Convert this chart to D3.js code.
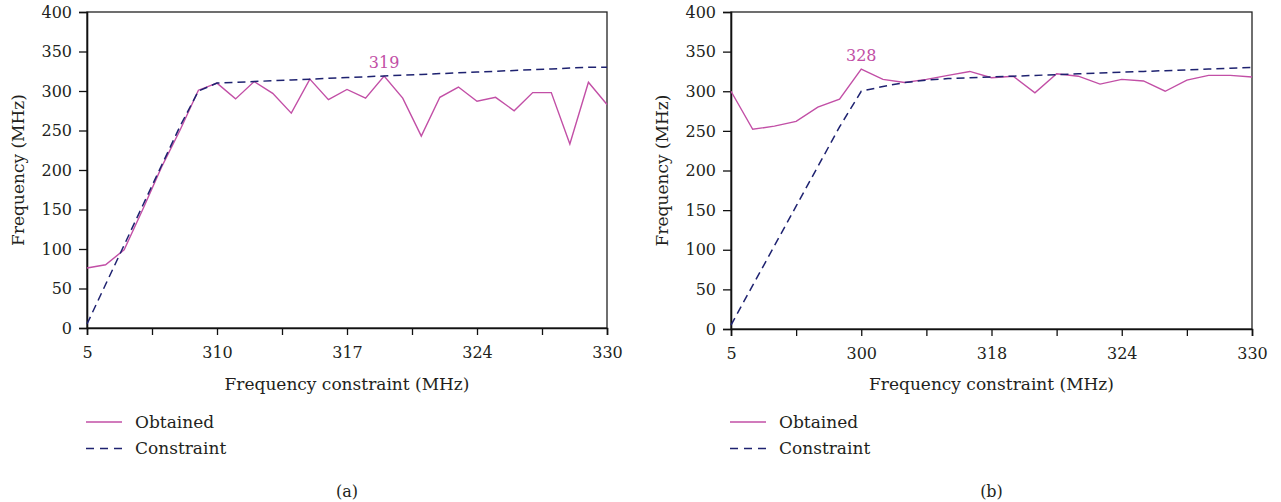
<!DOCTYPE html>
<html>
<head>
<meta charset="utf-8">
<script src="https://cdn.jsdelivr.net/npm/d3@7"></script>
<style>
  body { margin: 0; background: #fff; }
  text { font-family: "DejaVu Serif", serif; fill: #231f20; }
</style>
</head>
<body>
<script>
// panel (a)
var obtainedA = [76, 80, 99, 150, 203, 250, 301, 310, 290, 312, 297, 272, 315, 289, 302, 291,
  319, 291, 243, 292, 305, 287, 292, 275, 298, 298, 233, 311, 283];
var constraintA = [5, 55, 105, 155, 205, 255, 300, 310, 311, 312, 313, 314, 315, 316, 317, 318,
  319, 320, 321, 322, 323, 324, 325, 326, 327, 328, 329, 330, 330];
var tickLabelsA = ["5", "310", "317", "324", "330"];

// panel (b)
var obtainedB = [300, 252, 256, 262, 280, 290, 328, 315, 311, 315, 320, 325, 317, 319, 298, 322,
  319, 309, 315, 313, 300, 314, 320, 320, 318];
var constraintB = [5, 55, 105, 155, 205, 255, 300, 306, 311, 314, 316, 317, 318, 319, 320, 321,
  322, 323, 324, 325, 326, 327, 328, 329, 330];
var tickLabelsB = ["5", "300", "318", "324", "330"];

var yTicks = [0, 50, 100, 150, 200, 250, 300, 350, 400];
var seriesNames = ["Obtained", "Constraint"];

var pink = "#c24fa6", navy = "#1e2270";

var svg = d3.select("body").append("svg")
  .attr("width", 1281)
  .attr("height", 502);

function drawPanel(left, right, bottom, obtained, constraint, tickLabels, peakIdx, caption) {
  var top = 12;
  var n = obtained.length - 1;
  var x = d3.scaleLinear().domain([0, n]).range([left, right]);
  var y = d3.scaleLinear().domain([0, 400]).range([bottom, top]);

  var g = svg.append("g");

  // frame
  g.append("rect")
    .attr("x", left).attr("y", top)
    .attr("width", right - left).attr("height", bottom - top)
    .attr("fill", "none").attr("stroke", "#222").attr("stroke-width", 1.3);

  // tick positions: every other one carries a label
  var step = n / 8;
  var xTickVals = d3.range(9).map(function(i) { return i * step; });

  var xAxis = d3.axisBottom(x)
    .tickValues(xTickVals)
    .tickSize(7)
    .tickPadding(12)
    .tickFormat(function(d, i) { return i % 2 === 0 ? tickLabels[i / 2] : ""; });

  g.append("g")
    .attr("transform", "translate(0," + bottom + ")")
    .call(xAxis)
    .call(function(s) {
      s.select(".domain").attr("stroke", "#111").attr("stroke-width", 1.6);
      s.selectAll(".tick line").attr("stroke", "#111").attr("stroke-width", 1.3);
      s.selectAll(".tick text").attr("font-size", 16).attr("font-family", "DejaVu Serif").attr("fill", "#231f20");
    });

  var yAxis = d3.axisLeft(y).tickValues(yTicks).tickSize(8).tickPadding(7);
  g.append("g")
    .attr("transform", "translate(" + left + ",0)")
    .call(yAxis)
    .call(function(s) {
      s.select(".domain").attr("stroke", "#111").attr("stroke-width", 1.6);
      s.selectAll(".tick line").attr("stroke", "#111").attr("stroke-width", 1.3);
      s.selectAll(".tick text").attr("font-size", 16).attr("font-family", "DejaVu Serif").attr("fill", "#231f20");
    });

  var line = d3.line()
    .x(function(d, i) { return x(i); })
    .y(function(d) { return y(d); });

  g.append("path")
    .datum(obtained)
    .attr("d", line)
    .attr("fill", "none")
    .attr("stroke", pink)
    .attr("stroke-width", 1.4);

  g.append("path")
    .datum(constraint)
    .attr("d", line)
    .attr("fill", "none")
    .attr("stroke", navy)
    .attr("stroke-width", 1.5)
    .attr("stroke-dasharray", "8,5");

  // peak label
  g.append("text")
    .attr("x", x(peakIdx))
    .attr("y", y(obtained[peakIdx]) - 8)
    .attr("text-anchor", "middle")
    .attr("font-size", 16)
    .style("fill", pink)
    .text(obtained[peakIdx]);

  // axis titles
  g.append("text")
    .attr("x", (left + right) / 2)
    .attr("y", 390)
    .attr("text-anchor", "middle")
    .attr("font-size", 17)
    .text("Frequency constraint (MHz)");

  g.append("text")
    .attr("transform", "translate(" + (left - 63) + "," + ((top + bottom) / 2) + ") rotate(-90)")
    .attr("text-anchor", "middle")
    .attr("font-size", 17)
    .text("Frequency (MHz)");

  // legend
  var lg = g.append("g").attr("transform", "translate(" + (left - 1) + ",0)");
  seriesNames.forEach(function(name, i) {
    var ly = 422 + i * 26.5;
    lg.append("line")
      .attr("x1", 0).attr("x2", 36)
      .attr("y1", ly).attr("y2", ly)
      .attr("stroke", i === 0 ? pink : navy)
      .attr("stroke-width", 1.5)
      .attr("stroke-dasharray", i === 0 ? null : "8,6");
    lg.append("text")
      .attr("x", 49)
      .attr("y", ly + 5.5)
      .attr("font-size", 17)
      .text(name);
  });

  g.append("text")
    .attr("x", (left + right) / 2)
    .attr("y", 497)
    .attr("text-anchor", "middle")
    .attr("font-size", 16)
    .text(caption);
}

drawPanel(87, 607, 328, obtainedA, constraintA, tickLabelsA, 16, "(a)");
drawPanel(731, 1252, 329, obtainedB, constraintB, tickLabelsB, 6, "(b)");
</script>
</body>
</html>
